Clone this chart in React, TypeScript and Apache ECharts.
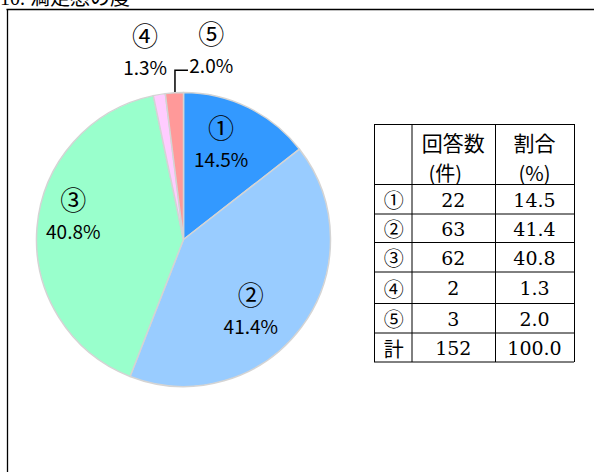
import React, { useEffect, useRef } from 'react';
import * as echarts from 'echarts';

// ---- data ----
const categories = ['①', '②', '③', '④', '⑤'];
const counts = [22, 63, 62, 2, 3];
const percents = ['14.5', '41.4', '40.8', '1.3', '2.0'];
const tablePercents = ['14.5', '41.4', '40.8', '1.3', '2.0'];
const totalLabel = '計';
const totalCount = '152';
const totalPercent = '100.0';
const headerCount = ['回答数', '(件)'];
const headerPercent = ['割合', '(%)'];
const titleText = '10. 満足感の度';

// ---- styles / layout ----
const colors = ['#3399FF', '#99CCFF', '#99FFCC', '#FFCCFF', '#FF9999'];
const insideNudge = [
  [4, -28],
  [6, 24],
  [-34, -19],
];
const LABEL_FONT = '"Noto Sans CJK JP", "Noto Sans", sans-serif';
const TABLE_FONT = '"Noto Sans CJK JP", serif';
const DIGIT_FONT = '"DejaVu Serif", "Noto Sans CJK JP", serif';

// table geometry
const colX = [374, 411.5, 495, 574];
const rowY = [124, 184, 213.5, 242, 271.5, 303, 332.5, 361.5];

export default function App() {
  const ref = useRef<HTMLDivElement>(null);
  useEffect(() => {
    if (!ref.current) return;
    const chart = echarts.init(ref.current, undefined, { renderer: 'svg' });

    const graphics: any[] = [];
    // title (cut by top edge, as in the source)
    graphics.push({
      type: 'text',
      x: 0,
      y: 8,
      style: {
        text: titleText,
        font: '20px "Liberation Serif", "Noto Sans CJK JP", serif',
        fill: '#000',
        textVerticalAlign: 'bottom',
        textAlign: 'left',
      },
    });
    // frame lines
    graphics.push({
      type: 'line',
      shape: { x1: 6.5, y1: 9.5, x2: 594, y2: 9.5 },
      style: { stroke: '#000', lineWidth: 1.3 },
    });
    graphics.push({
      type: 'line',
      shape: { x1: 7.5, y1: 9, x2: 7.5, y2: 472 },
      style: { stroke: '#000', lineWidth: 1.3 },
    });
    // table lines
    const tl = (x1: number, y1: number, x2: number, y2: number) => ({
      type: 'line',
      shape: { x1, y1, x2, y2 },
      style: { stroke: '#000', lineWidth: 1 },
    });
    rowY.forEach((y) => graphics.push(tl(colX[0], y + 0.5, colX[3], y + 0.5)));
    colX.forEach((x) => graphics.push(tl(x + 0.5, rowY[0], x + 0.5, rowY[rowY.length - 1] + 0.5)));

    const tt = (text: string, x: number, y: number, font: string, size = 20) => ({
      type: 'text',
      x,
      y,
      style: {
        text,
        font: `${size}px ${font}`,
        fill: '#000',
        textAlign: 'center',
        textVerticalAlign: 'middle',
      },
    });
    const cx = [(colX[0] + colX[1]) / 2, (colX[1] + colX[2]) / 2, (colX[2] + colX[3]) / 2];
    graphics.push(tt(headerCount[0], cx[1], 142, TABLE_FONT, 21));
    graphics.push(tt(headerCount[1], cx[1] - 8, 172, TABLE_FONT, 20));
    graphics.push(tt(headerPercent[0], cx[2], 142, TABLE_FONT, 21));
    graphics.push(tt(headerPercent[1], cx[2], 172, TABLE_FONT, 20));
    const rowLabels = [...categories, totalLabel];
    const rowCounts = [...counts.map(String), totalCount];
    const rowPcts = [...tablePercents, totalPercent];
    for (let i = 0; i < 6; i++) {
      const yc = (rowY[i + 1] + rowY[i + 2]) / 2 + 1;
      graphics.push(tt(rowLabels[i], cx[0] + 1, yc, TABLE_FONT, 20));
      graphics.push(tt(rowCounts[i], cx[1], yc, DIGIT_FONT, 19));
      graphics.push(tt(rowPcts[i], cx[2], yc, DIGIT_FONT, 19));
    }

    chart.setOption({
      animation: false,
      graphic: graphics,
      series: [
        {
          type: 'pie',
          center: [183.5, 239.5],
          radius: 147,
          startAngle: 90,
          clockwise: true,
          avoidLabelOverlap: false,
          itemStyle: { borderColor: '#d4d4d4', borderWidth: 1.5 },
          data: categories.map((c, i) => ({
            name: c,
            value: counts[i],
            itemStyle: { color: colors[i] },
            label: { position: i < 3 ? 'inside' : 'outside' },
            labelLine: { show: i === 4 },
          })),
          label: {
            formatter: (p: any) => `{c|${p.name}}\n{p|${percents[p.dataIndex]}%}`,
            color: '#000',
            fontFamily: LABEL_FONT,
            align: 'center',
            rich: {
              c: { fontSize: 26, lineHeight: 32, fontFamily: LABEL_FONT, color: '#000' },
              p: { fontSize: 19, lineHeight: 32, fontFamily: LABEL_FONT, color: '#000' },
            },
          },
          labelLine: { lineStyle: { color: '#000', width: 1.5 } },
          labelLayout: (p: any) => {
            const i = p.dataIndex;
            if (i < 3) {
              return { dx: insideNudge[i][0], dy: insideNudge[i][1] };
            }
            const r = p.rect;
            if (i === 3) {
              return { x: r.x - 7.5, y: r.y - 42.5, align: 'center', verticalAlign: 'middle' };
            }
            const lx = r.x + 10.4;
            return {
              x: r.x + 46.7,
              y: r.y - 43.5,
              align: 'center',
              verticalAlign: 'middle',
              labelLinePoints: [
                [lx, r.y + 0.5],
                [lx, r.y - 21.5],
                [lx + 13, r.y - 21.5],
              ],
            };
          },
        },
      ],
    });
    return () => chart.dispose();
  }, []);
  return (
    <div
      ref={ref}
      style={{ position: 'absolute', left: 0, top: 0, width: 594, height: 472, background: '#fff' }}
    />
  );
}
